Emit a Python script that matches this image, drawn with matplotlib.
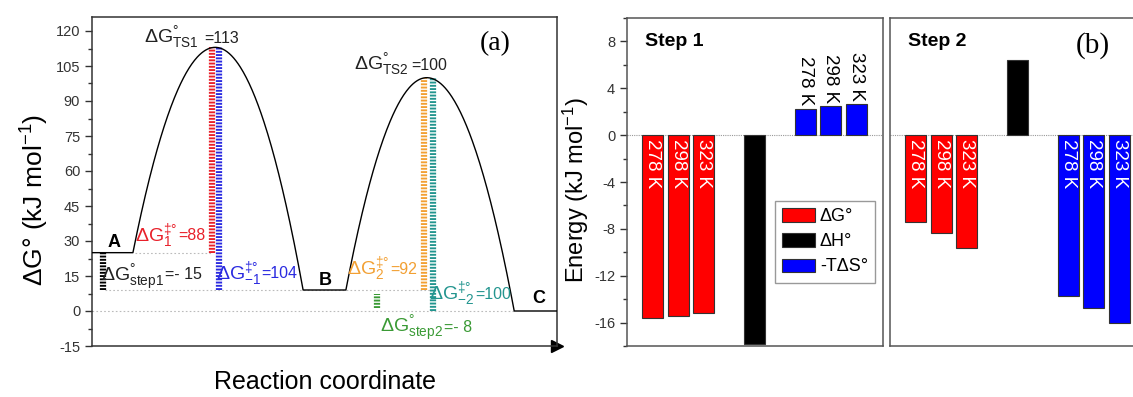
import numpy as np
import matplotlib.pyplot as plt
from matplotlib.patches import Patch

# -----------------------------------------
# defaults
# -----------------------------------------

plt.rcParams.update({
    "font.family": "Liberation Sans",
    "mathtext.fontset": "custom",
    "mathtext.rm": "Liberation Sans",
    "mathtext.it": "Liberation Sans:italic",
    "mathtext.bf": "Liberation Sans:bold",
    "mathtext.default": "regular",
    "axes.unicode_minus": False,
    "axes.linewidth": 1.1,
    "axes.edgecolor": "#333333",
    "xtick.color": "#333333",
    "ytick.color": "#333333",
})

W, H = 1133, 397

# -----------------------------------------
# panel (a) data: free energy profile
# -----------------------------------------

state_names = ["A", "B", "C"]
state_energy = [25, 9, 0]
state_start = [0.0, 4.54, 9.08]
state_end = [0.88, 5.46, 10.0]

ts_energy = [113, 100]
ts_pos = [2.65, 7.20]

# striped bars showing the energy differences
gap_x = [0.24, 2.58, 2.73, 6.13, 7.14, 7.33]
gap_lo = [9, 25, 9, 1.5, 9, 0]
gap_hi = [25, 113, 113, 7.5, 100, 100]
gap_colors = ["black", "#e8202a", "#2a2ae0", "#3a9a35", "#f2a033", "#23958f"]

# annotation texts
ann_math = [r"$\Delta G^{°}_{TS1}$", r"$\Delta G^{°}_{TS2}$",
            r"$\Delta G^{°}_{step1}$", r"$\Delta G^{‡°}_{1}$",
            r"$\Delta G^{‡°}_{-1}$", r"$\Delta G^{‡°}_{2}$",
            r"$\Delta G^{‡°}_{-2}$", r"$\Delta G^{°}_{step2}$"]
ann_value = ["=113", "=100", "=- 15", "=88", "=104", "=92", "=100", "=- 8"]
ann_colors = ["#222222", "#222222", "#222222", "#e8202a",
              "#2a2ae0", "#f2a033", "#23958f", "#3a9a35"]

# -----------------------------------------
# panel (b) data: thermodynamic terms
# -----------------------------------------

temps = ["278 K", "298 K", "323 K"]

step1_dG = [-15.57, -15.40, -15.20]
step1_dH = -17.8
step1_TdS = [2.27, 2.47, 2.64]

step2_dG = [-7.38, -8.37, -9.65]
step2_dH = 6.38
step2_TdS = [-13.76, -14.75, -16.03]

legend_labels = ["ΔG°", "ΔH°", "-TΔS°"]


def fig_rect(x0, y0, x1, y1):
    return [x0 / W, 1 - y1 / H, (x1 - x0) / W, (y1 - y0) / H]


def hump(x_left, y_left, x_peak, y_peak, x_right, y_right, n=120):
    xl = np.linspace(x_left, x_peak, n)
    yl = y_peak - (y_peak - y_left) * ((xl - x_peak) / (x_left - x_peak)) ** 2
    xr = np.linspace(x_peak, x_right, n)
    yr = y_peak - (y_peak - y_right) * ((xr - x_peak) / (x_right - x_peak)) ** 2
    return np.concatenate([xl, xr]), np.concatenate([yl, yr])


fig = plt.figure(figsize=(W / 100, H / 100), dpi=100)

# -----------------------------------------
# panel (a)
# -----------------------------------------

ax = fig.add_axes(fig_rect(92, 17, 557, 346))

xs = []
ys = []
for i in range(3):
    xs += [state_start[i], state_end[i]]
    ys += [state_energy[i], state_energy[i]]
    if i < 2:
        hx, hy = hump(state_end[i], state_energy[i], ts_pos[i], ts_energy[i],
                      state_start[i + 1], state_energy[i + 1])
        xs += list(hx)
        ys += list(hy)

# dotted reference levels
dot = dict(color="#bbbbbb", linestyle=(0, (1.5, 2)), linewidth=0.8, zorder=1)
ax.plot([state_end[0] + 0.04, gap_x[1]], [state_energy[0]] * 2, **dot)
ax.plot([gap_x[0] + 0.05, gap_x[5]], [state_energy[1]] * 2, **dot)
ax.plot([0, state_start[2]], [state_energy[2]] * 2, **dot)

ax.plot(xs, ys, color="black", linewidth=1.0, zorder=3)

for x, lo, hi, c in zip(gap_x, gap_lo, gap_hi, gap_colors):
    ax.vlines(x, lo, hi, colors=c, linewidth=4.5,
              linestyles=[(0, (0.3, 0.22))], zorder=2)

# state letters
letter_pos = [(0.47, 29.5), (5.01, 13.2), (9.6, 5.2)]
for name, (lx, ly) in zip(state_names, letter_pos):
    ax.text(lx, ly, name, fontsize=13, fontweight="bold",
            ha="center", va="center")

# annotations: split point x, baseline of math part, x of value, baseline
ann_pos = [(2.30, 115.0, 2.42, 115.0), (6.82, 103.3, 6.86, 103.3),
           (1.55, 12.4, 1.57, 13.8), (1.83, 29.6, 1.85, 30.4),
           (3.63, 13.3, 3.65, 14.0), (6.39, 15.4, 6.41, 15.8),
           (8.22, 4.7, 8.24, 5.0), (7.55, -9.4, 7.57, -9.0)]
for m, v, c, (sx, yb, vx, yv) in zip(ann_math, ann_value, ann_colors,
                                      ann_pos):
    ax.text(sx, yb, m, color=c, fontsize=14, ha="right", va="baseline")
    ax.text(vx, yv, v, color=c, fontsize=11.5, ha="left", va="baseline")

ax.set_xlim(0, 10)
ax.set_ylim(-15, 126)
ax.set_yticks(np.arange(-15, 121, 15))
ax.set_yticks(np.arange(-15, 126, 7.5), minor=True)
ax.tick_params(axis="y", which="major", length=5, width=1, labelsize=10.5)
ax.tick_params(axis="y", which="minor", length=3, width=1)
ax.set_xticks([])
ax.plot(1, 0, marker=">", color="black", markersize=9,
        transform=ax.transAxes, clip_on=False)

fig.text(35 / W, 1 - 200 / H, r"ΔG° (kJ mol$^{-1}$)", rotation=90,
         fontsize=19, ha="center", va="center")
fig.text(325 / W, 1 - 382 / H, "Reaction coordinate", fontsize=18,
         ha="center", va="center")
fig.text(495 / W, 1 - 44 / H, "(a)", family="Liberation Serif",
         fontsize=20, ha="center", va="center")

# -----------------------------------------
# panel (b)
# -----------------------------------------

pos_g = [0, 1, 2]
pos_h = [4]
pos_s = [6, 7, 8]
bar_w = 0.83
edge = dict(edgecolor="#333333", linewidth=0.8)

ax1 = fig.add_axes(fig_rect(627, 18, 883, 346))
ax2 = fig.add_axes(fig_rect(890, 18, 1146, 346))

steps = [(ax1, step1_dG, step1_dH, step1_TdS, "Step 1"),
         (ax2, step2_dG, step2_dH, step2_TdS, "Step 2")]

for a, dG, dH, TdS, title in steps:
    a.axhline(0, color="#999999", linestyle=(0, (1, 1)), linewidth=0.8,
              zorder=1)
    a.bar(pos_g, dG, width=bar_w, color="#ff0000", zorder=2, **edge)
    a.bar(pos_h, [dH], width=bar_w, color="black", zorder=2, **edge)
    a.bar(pos_s, TdS, width=bar_w, color="#0000ff", zorder=2, **edge)

    for p, v, t in zip(pos_g + pos_s, list(dG) + list(TdS), temps + temps):
        if v < 0:
            a.text(p, -0.3, t, rotation=-90, ha="center", va="top",
                   color="white", fontsize=13.5, zorder=3)
        else:
            a.text(p, v + 0.25, t, rotation=-90, ha="center", va="bottom",
                   color="black", fontsize=13.5, zorder=3)

    a.text(0.07, 0.955, title, transform=a.transAxes, fontsize=14,
           fontweight="bold", ha="left", va="top")

    a.set_xlim(-1.02, 9.06)
    a.set_ylim(-18, 10)
    a.set_xticks([])
    for s in a.spines.values():
        s.set_color("#555555")

ax1.set_yticks(np.arange(-16, 9, 4))
ax1.set_yticks(np.arange(-18, 10.1, 2), minor=True)
ax1.tick_params(axis="y", which="major", length=5, width=1, labelsize=10.5)
ax1.tick_params(axis="y", which="minor", length=3, width=1)
ax2.set_yticks([])

handles = [Patch(facecolor=c, **edge) for c in ["#ff0000", "black", "#0000ff"]]
ax1.legend(handles, legend_labels, loc="upper right",
           bbox_to_anchor=(0.97, 0.442), borderaxespad=0, fontsize=13,
           handlelength=1.8, handleheight=0.75, handletextpad=0.3,
           labelspacing=0.45, borderpad=0.4, fancybox=False,
           edgecolor="#999999", framealpha=1)

fig.text(576 / W, 1 - 190 / H, r"Energy (kJ mol$^{-1}$)", rotation=90,
         fontsize=17, ha="center", va="center")
fig.text(1093 / W, 1 - 46 / H, "(b)", family="Liberation Serif",
         fontsize=21, ha="center", va="center")

fig.savefig("out.png", dpi=100)
